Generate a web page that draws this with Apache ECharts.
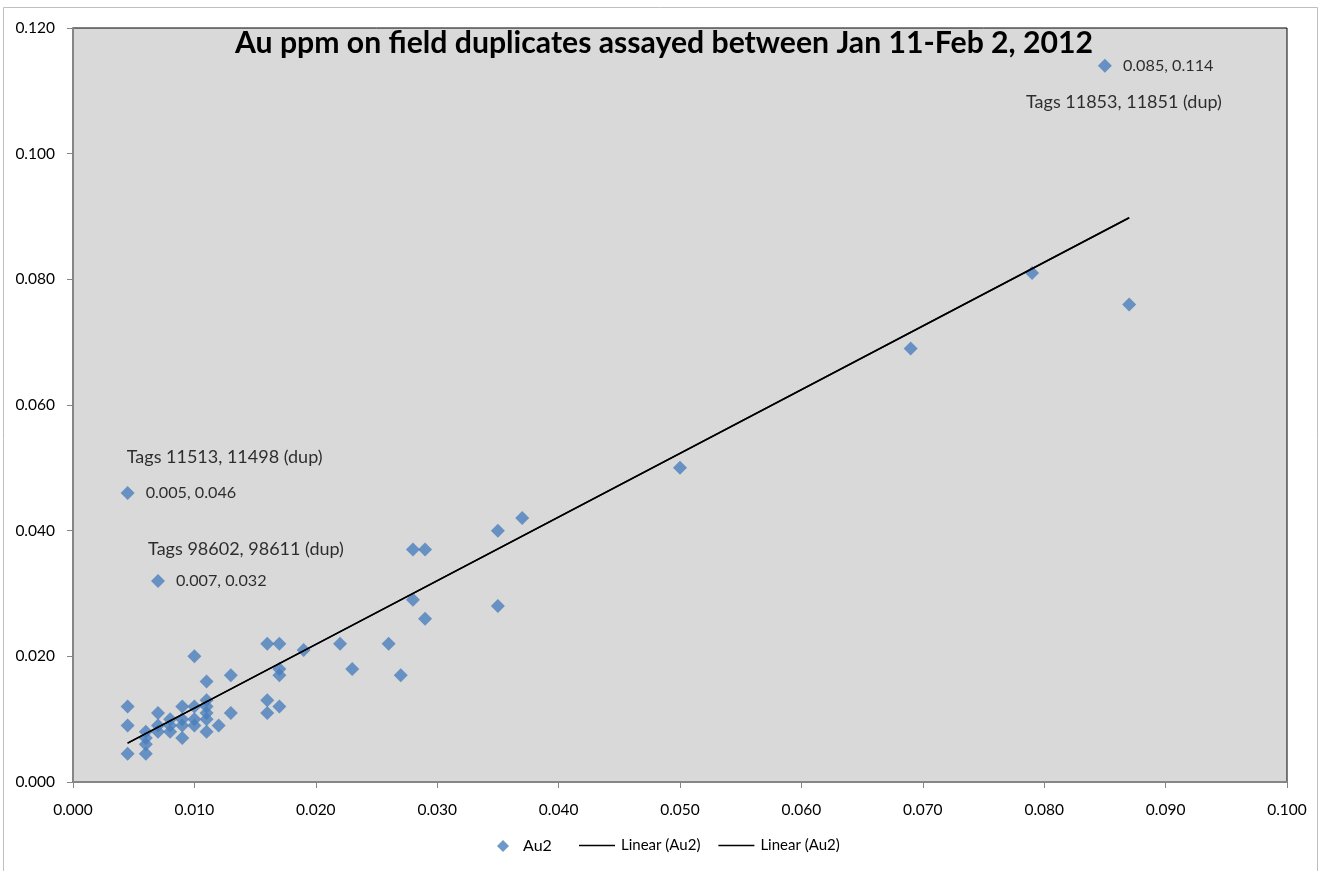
<!DOCTYPE html>
<html>
<head>
<meta charset="utf-8">
<script src="https://cdn.jsdelivr.net/npm/echarts@6.0.0/dist/echarts.min.js"></script>
<style>
html,body{margin:0;padding:0;background:#fff;}
#chart{width:1328px;height:871px;}
</style>
</head>
<body>
<div id="chart"></div>
<script>
// ---- data ----
const titleText = 'Au ppm on field duplicates assayed between Jan 11-Feb 2, 2012';
const seriesName = 'Au2';
const trendName = 'Linear (Au2)';
const xTicks = { min: 0, max: 0.1, interval: 0.01 };
const yTicks = { min: 0, max: 0.12, interval: 0.02 };

const au1 = [0.0045,0.0045,0.0045,0.0045,
  0.006,0.006,0.006,0.006,
  0.007,0.007,0.007,0.007,
  0.008,0.008,0.008,
  0.009,0.009,0.009,0.009,
  0.010,0.010,0.010,0.010,
  0.011,0.011,0.011,0.011,0.011,0.011,
  0.012,
  0.013,0.013,
  0.016,0.016,0.016,
  0.017,0.017,0.017,0.017,
  0.019,0.022,0.023,0.026,0.027,
  0.028,0.028,0.029,0.029,
  0.035,0.035,0.037,
  0.050,0.069,0.079,0.087,0.085];
const au2 = [0.012,0.009,0.0045,0.046,
  0.0045,0.006,0.007,0.008,
  0.011,0.009,0.008,0.032,
  0.010,0.009,0.008,
  0.012,0.010,0.009,0.007,
  0.020,0.012,0.010,0.009,
  0.016,0.013,0.012,0.011,0.010,0.008,
  0.009,
  0.017,0.011,
  0.022,0.013,0.011,
  0.022,0.018,0.017,0.012,
  0.021,0.022,0.018,0.022,0.017,
  0.037,0.029,0.037,0.026,
  0.040,0.028,0.042,
  0.050,0.069,0.081,0.076,0.114];

// trend line end points as drawn in the reference
const trendX = [0.0045, 0.087];
const trendY = [0.0062, 0.0898];

// annotated points: value label and tag label
const annX = [0.085, 0.0045, 0.007];
const annY = [0.114, 0.046, 0.032];
const annValueText = ['0.085, 0.114', '0.005, 0.046', '0.007, 0.032'];
const annTagText = ['Tags 11853, 11851 (dup)', 'Tags 11513, 11498 (dup)', 'Tags 98602, 98611 (dup)'];
const annTagOffset = [[19, 36], [97, -36], [88, -32]];

// ---- build chart ----
const FONT = 'Lato, "Open Sans", sans-serif';
const blue = '#4A7EBB';

const scatterData = au1.map((x, i) => {
  const item = { value: [x, au2[i]] };
  for (let k = 0; k < annX.length; k++) {
    if (annX[k] === x && annY[k] === au2[i]) {
      item.label = { show: true, position: 'right', distance: 11, formatter: annValueText[k] };
    }
  }
  return item;
});

const tagData = annX.map((x, k) => ({
  value: [x, annY[k]],
  label: { show: true, position: 'inside', offset: annTagOffset[k], formatter: annTagText[k] }
}));

const lineData = trendX.map((x, i) => [x, trendY[i]]);

const chart = echarts.init(document.getElementById('chart'), null, { renderer: 'canvas' });
chart.setOption({
  animation: false,
  backgroundColor: '#fff',
  textStyle: { fontFamily: FONT },
  title: {
    text: titleText, left: 'center', top: 23,
    textStyle: { fontFamily: FONT, fontSize: 30.2, fontWeight: 'bold', color: '#000' }
  },
  grid: {
    left: 73, top: 28, width: 1214, height: 754,
    show: true, backgroundColor: '#D9D9D9', borderColor: '#000', borderWidth: 1
  },
  xAxis: {
    type: 'value', min: xTicks.min, max: xTicks.max, interval: xTicks.interval,
    axisLine: { show: true, lineStyle: { color: '#868686', width: 2 } },
    axisTick: { show: true, length: 6, lineStyle: { color: '#868686' } },
    splitLine: { show: false },
    axisLabel: { margin: 20, color: '#000', fontSize: 15.5, fontFamily: FONT, formatter: v => v.toFixed(3) }
  },
  yAxis: {
    type: 'value', min: yTicks.min, max: yTicks.max, interval: yTicks.interval,
    axisLine: { show: true, lineStyle: { color: '#868686', width: 2 } },
    axisTick: { show: true, length: 6, lineStyle: { color: '#868686' } },
    splitLine: { show: false },
    axisLabel: { margin: 18, color: '#000', fontSize: 15.5, fontFamily: FONT, formatter: v => v.toFixed(3) }
  },
  legend: [
    {
      data: [{ name: seriesName, icon: 'diamond' }],
      left: 492, top: 833, itemWidth: 12, itemHeight: 12,
      textStyle: { fontFamily: FONT, fontSize: 16, color: '#000', padding: [0, 0, 0, 9] }
    },
    {
      data: [{ name: trendName, icon: 'rect' }, { name: trendName + ' ', icon: 'rect' }],
      left: 574, top: 833, itemWidth: 36, itemHeight: 1.5, itemGap: 18,
      textStyle: { fontFamily: FONT, fontSize: 15, color: '#000', padding: [0, 0, 0, 1] }
    }
  ],
  graphic: [{
    type: 'rect', shape: { x: 3.5, y: 7.5, width: 1314, height: 900 },
    style: { fill: null, stroke: '#BFBFBF', lineWidth: 1 }, silent: true, z: -1
  }],
  series: [
    {
      name: seriesName, type: 'scatter', symbol: 'diamond', symbolSize: 14,
      itemStyle: { color: blue }, data: scatterData,
      label: { color: '#000', fontSize: 16.2, fontFamily: FONT },
      z: 3
    },
    {
      name: trendName, type: 'line', data: lineData, symbol: 'none', showSymbol: false,
      lineStyle: { color: '#000', width: 1.5 }, itemStyle: { color: '#000' }, z: 4
    },
    {
      name: trendName + ' ', type: 'line', data: lineData, symbol: 'none', showSymbol: false,
      lineStyle: { color: '#000', width: 1.5 }, itemStyle: { color: '#000' }, z: 4
    },
    {
      name: 'tags', type: 'scatter', symbolSize: 0, data: tagData, silent: true,
      label: { color: '#000', fontSize: 18, fontFamily: FONT, align: 'center', verticalAlign: 'middle' },
      z: 5
    }
  ]
});
</script>
</body>
</html>
